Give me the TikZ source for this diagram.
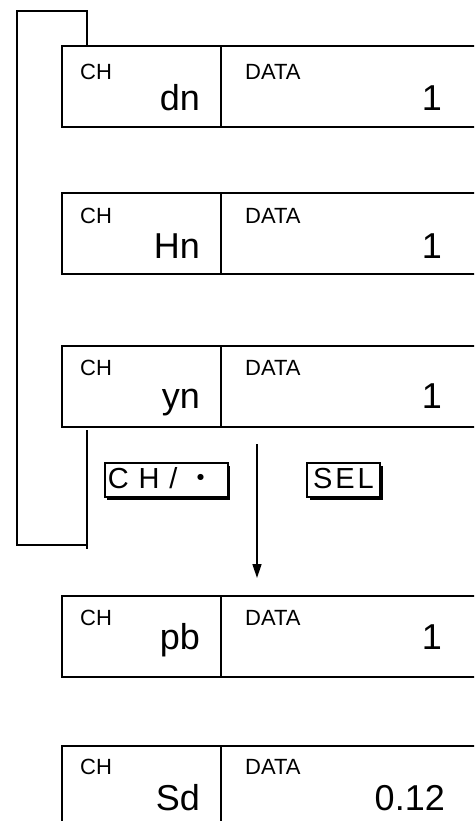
\documentclass[tikz,border=0pt]{standalone}
\usepackage{fontspec}
\setmainfont{Liberation Sans}
\newfontfamily\cjkfont{Noto Sans CJK JP}
\usetikzlibrary{calc, positioning, arrows.meta, shadows}

\begin{document}
\begin{tikzpicture}[
  x=1pt, y=-1pt,
  cell/.style={draw, line width=1.8pt, minimum height=81pt, inner sep=0pt, outer sep=0pt, anchor=north west},
  chcell/.style={cell, minimum width=159pt},
  datacell/.style={cell, minimum width=280pt},
  tag/.style={inner sep=0pt, font=\fontsize{22}{22}\selectfont},
  reading/.style={inner sep=0pt, font=\fontsize{36}{36}\selectfont},
  key/.style={draw, line width=1.7pt, fill=white, minimum height=34pt, inner ysep=0pt,
    text height=21pt, text depth=5pt, font=\fontsize{29}{29}\selectfont,
    drop shadow={shadow xshift=2.5pt, shadow yshift=-2.5pt, fill=black, opacity=1}},
  loopline/.style={line width=1.9pt},
  arr/.style={-{Triangle[length=14pt, width=9pt]}, line width=1.5pt}
]
\useasboundingbox (0,0) rectangle (474,821);
\clip (0,0) rectangle (474,821);

% display dn
\node[chcell] (chdn) at (62,46) {};
\node[datacell] (datadn) at (chdn.north east) {};
\node[tag, anchor=base west] at ($(chdn.north west)+(18,34)$) {CH};
\node[reading, anchor=base east] at ($(chdn.north east)+(-21,65)$) {dn};
\node[tag, anchor=base west] at ($(datadn.north west)+(24,34)$) {DATA};
\node[reading, anchor=base east] at ($(datadn.north west)+(221,65)$) {1};

% display Hn
\node[chcell] (chhn) at (62,193) {};
\node[datacell] (datahn) at (chhn.north east) {};
\node[tag, anchor=base west] at ($(chhn.north west)+(18,30)$) {CH};
\node[reading, anchor=base east] at ($(chhn.north east)+(-21,65)$) {Hn};
\node[tag, anchor=base west] at ($(datahn.north west)+(24,30)$) {DATA};
\node[reading, anchor=base east] at ($(datahn.north west)+(221,65)$) {1};

% display yn
\node[chcell] (chyn) at (62,346) {};
\node[datacell] (datayn) at (chyn.north east) {};
\node[tag, anchor=base west] at ($(chyn.north west)+(18,29)$) {CH};
\node[reading, anchor=base east] at ($(chyn.north east)+(-21,62)$) {yn};
\node[tag, anchor=base west] at ($(datayn.north west)+(24,29)$) {DATA};
\node[reading, anchor=base east] at ($(datayn.north west)+(221,62)$) {1};

% keys
\node[key, anchor=west, text width=117pt, align=left, inner xsep=3pt] (chkey) at (104,480)
  {\addfontfeatures{LetterSpace=34}CH/\kern9pt{\cjkfont ・}};
\node[key, minimum width=73pt, inner xsep=0pt] (selkey) at (343.5,480)
  {\addfontfeatures{LetterSpace=10}SEL};

% loop back to dn
\coordinate (looptop) at ($(chdn.north west)+(25,0)$);
\coordinate (loopbot) at ($(chyn.south west)+(25,3)$);
\draw[loopline] (loopbot) -- ++(0,119);
\draw[loopline] (loopbot |- 0,545) -| (17,11) -| (looptop);

% SEL goes on
\coordinate (selstart) at (257,444);
\coordinate (selend) at (257,578);
\draw[arr] (selstart) -- (selend);

% display pb
\node[chcell] (chpb) at (62,596) {};
\node[datacell] (datapb) at (chpb.north east) {};
\node[tag, anchor=base west] at ($(chpb.north west)+(18,29)$) {CH};
\node[reading, anchor=base east] at ($(chpb.north east)+(-21,53)$) {pb};
\node[tag, anchor=base west] at ($(datapb.north west)+(24,29)$) {DATA};
\node[reading, anchor=base east] at ($(datapb.north west)+(221,53)$) {1};

% display Sd
\node[chcell] (chsd) at (62,746) {};
\node[datacell] (datasd) at (chsd.north east) {};
\node[tag, anchor=base west] at ($(chsd.north west)+(18,28)$) {CH};
\node[reading, anchor=base east] at ($(chsd.north east)+(-21,64)$) {Sd};
\node[tag, anchor=base west] at ($(datasd.north west)+(24,28)$) {DATA};
\node[reading, anchor=base east] at ($(datasd.north west)+(224,64)$) {0.12};

\end{tikzpicture}
\end{document}
